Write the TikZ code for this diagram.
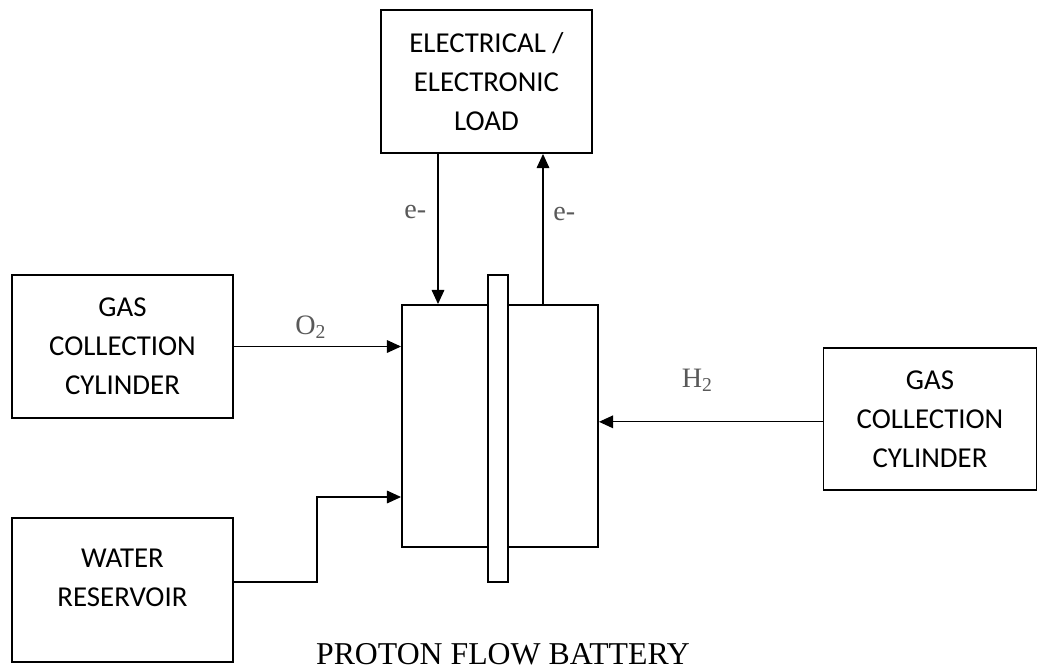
\documentclass[tikz,border=0pt]{standalone}
\usepackage{fontspec}
\setmainfont{Liberation Serif}
\newfontfamily\boxfont{Carlito}
\usepackage{xcolor}
\usepackage{tikz}
\usetikzlibrary{arrows.meta, positioning, calc}

\definecolor{labelgray}{HTML}{595959}

\begin{document}
\begin{tikzpicture}[
    x=0.025cm, y=-0.025cm,
    block/.style={rectangle, draw, line width=1.4pt, align=center, font=\boxfont\fontsize{20.5}{27.7}\selectfont},
    boxtext/.style={align=center, font=\boxfont\fontsize{20.5}{27.7}\selectfont},
    conn/.style={draw, line width=0.8pt, -{Triangle[length=10pt,width=9pt]}},
    flowlabel/.style={text=labelgray, inner sep=0pt, font=\fontsize{20}{22}\selectfont},
]
\useasboundingbox (0,0) rectangle (1038,671);

% Load
\node[block, minimum width=211*0.025cm, minimum height=143*0.025cm] (load) at (486.5,81.5) {ELECTRICAL /\\ELECTRONIC\\LOAD};

% Cell and membrane
\node[block, minimum width=196*0.025cm, minimum height=242*0.025cm] (cell) at (500,426) {};
\node[block, fill=white, minimum width=20*0.025cm, minimum height=307*0.025cm] (membrane) at (498,428.5) {};

% Supplies
\node[block, minimum width=221*0.025cm, minimum height=143*0.025cm] (gasleft) at (122.5,346.5) {GAS\\COLLECTION\\CYLINDER};
\node[block, minimum width=221*0.025cm, minimum height=144*0.025cm] (water) at (122.5,590) {};
\node[boxtext] (watertext) at (122.5,578) {WATER\\RESERVOIR};
\node[block, minimum width=213*0.025cm, minimum height=142*0.025cm] (gasright) at (930,419) {GAS\\COLLECTION\\CYLINDER};

% Electron path
\coordinate (ein) at (438,0);
\coordinate (eout) at (543,0);
\draw[conn] (load.south -| ein) -- node[flowlabel, left=8pt, pos=0.39] (eleft) {e-} (cell.north -| ein);
\draw[conn] (cell.north -| eout) -- node[flowlabel, right=7pt, pos=0.6] (eright) {e-} (load.south -| eout);

% Gas and water feeds
\draw[conn] (gasleft.east) -- node[flowlabel, above=5pt, pos=0.46] (oxygen) {O\textsubscript{2}} (gasleft.east -| cell.west);
\draw[conn] ([yshift=-2pt]gasright.west) -- node[flowlabel, above=21pt, pos=0.56] (hydrogen) {H\textsubscript{2}} ([yshift=-2pt]gasright.west -| cell.east);
\coordinate (wbend) at (317,497);
\draw[conn] ([yshift=0.2cm]water.east) -| (wbend) -- (wbend -| cell.west);

% Caption
\node[font=\fontsize{22.6}{26}\selectfont] (caption) at (503,654) {PROTON FLOW BATTERY};
\end{tikzpicture}
\end{document}
